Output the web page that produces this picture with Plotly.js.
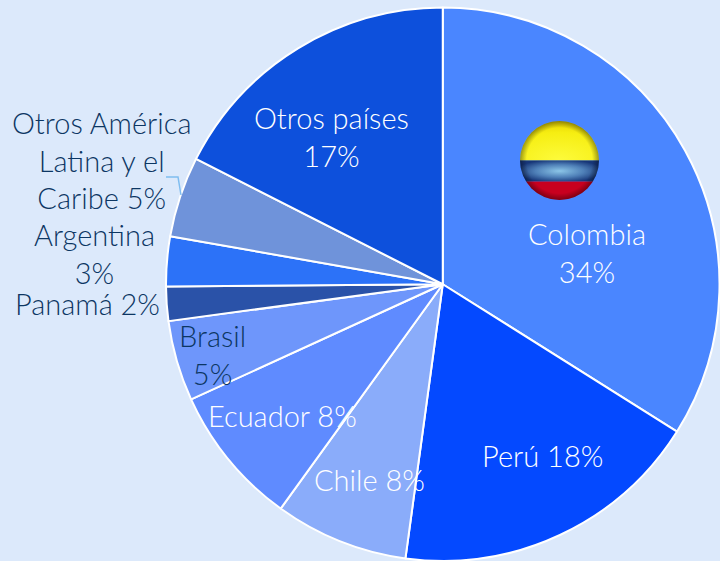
<!DOCTYPE html>
<html><head><meta charset="utf-8">
<script src="https://cdn.plot.ly/plotly-3.0.1.min.js"></script>
<style>html,body{margin:0;padding:0;background:#dce9fb}</style></head>
<body><div id="c" style="width:720px;height:561px"></div>
<script>
const categories=["Colombia","Perú","Chile","Ecuador","Brasil","Panamá","Argentina","Otros América Latina y el Caribe","Otros países"];
const shares=[33.9,18.2,7.8,8.2,4.7,2.0,2.9,4.7,17.5];
const sliceColors=["#4a86ff","#0449ff","#8aacfa","#5f8bff","#6e96fb","#2a52a8","#2c72f8","#6f93da","#0d50dc"];
const labelTexts=["Colombia<br>34%","Perú 18%","Chile 8%","Ecuador 8%","Brasil<br>5%","Panamá 2%","Argentina<br>3%","Otros América<br>Latina y el<br>Caribe 5%","Otros países<br>17%"];
const labelColors=["#ffffff","#ffffff","#ffffff","#ffffff","#0c3663","#0c3663","#0c3663","#0c3663","#ffffff"];
const labelX=[587,542,370,282,212,87,94,101.5,331];
const labelY=[253,455,479,415,354,303,253.5,159.5,136];
const flag=`<svg xmlns="http://www.w3.org/2000/svg" width="160" height="160" viewBox="0 0 80 80"><defs><radialGradient id="y" cx="50%" cy="100%" r="100%"><stop offset="0" stop-color="#fdfb3c"/><stop offset=".7" stop-color="#f6ee12"/><stop offset="1" stop-color="#e4cf00"/></radialGradient><radialGradient id="b" cx="50%" cy="50%" r="55%"><stop offset="0" stop-color="#8cc6e8"/><stop offset=".55" stop-color="#4f80b8"/><stop offset="1" stop-color="#173678"/></radialGradient><radialGradient id="e" cx="50%" cy="50%" r="50%"><stop offset=".82" stop-color="#000" stop-opacity="0"/><stop offset="1" stop-color="#000" stop-opacity=".4"/></radialGradient><clipPath id="k"><circle cx="40" cy="40" r="39.5"/></clipPath></defs><g clip-path="url(#k)"><rect width="80" height="40" fill="url(#y)"/><rect y="40" width="80" height="21" fill="url(#b)"/><rect y="61" width="80" height="19" fill="#c8001f"/><circle cx="40" cy="40" r="40" fill="url(#e)"/></g></svg>`;
const W=720,H=561;
const labelFont={size:29,weight:300,family:"Lato, sans-serif"};
Plotly.newPlot("c",[{type:"pie",labels:categories,values:shares,sort:false,direction:"clockwise",rotation:0,
 textinfo:"none",hoverinfo:"label+percent",marker:{colors:sliceColors,line:{color:"#ffffff",width:2}},
 domain:{x:[165.5/W,1],y:[0,1-7.5/H]},showlegend:false}],
 {width:W,height:H,margin:{l:0,r:0,t:0,b:0},paper_bgcolor:"#dce9fb",plot_bgcolor:"#dce9fb",showlegend:false,
  font:{family:"Lato, sans-serif"},
  annotations:labelTexts.map((t,i)=>({text:t,x:labelX[i]/W,y:1-labelY[i]/H,xref:"paper",yref:"paper",xanchor:"center",yanchor:"middle",showarrow:false,align:"center",font:Object.assign({color:labelColors[i]},labelFont)})),
  shapes:[{type:"path",xref:"paper",yref:"paper",path:`M ${166/W} ${1-177/H} L ${178/W} ${1-177/H} L ${181/W} ${1-195/H}`,line:{color:"#7fbdf0",width:1.5}}],
  images:[{source:"data:image/svg+xml;utf8,"+encodeURIComponent(flag),xref:"paper",yref:"paper",x:519.5/W,y:1-120.5/H,sizex:80/W,sizey:80/H,xanchor:"left",yanchor:"top",sizing:"stretch",layer:"above"}]
 },{displayModeBar:false,staticPlot:true});
</script></body></html>
